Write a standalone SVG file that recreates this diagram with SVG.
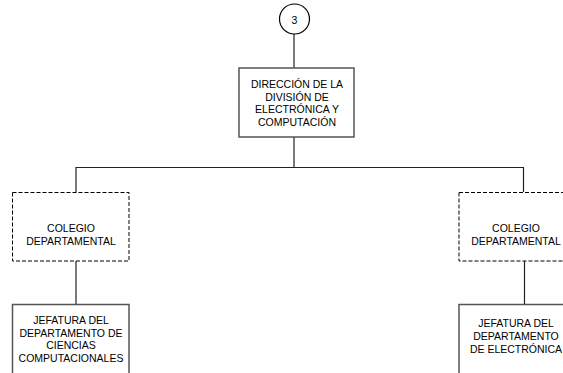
<svg xmlns="http://www.w3.org/2000/svg" width="563" height="373" viewBox="0 0 563 373">
<style>
text{font-family:"Liberation Sans",Arial,sans-serif;font-size:10.5px;fill:#000;text-anchor:middle}
.solid{fill:#fff;stroke:#555;stroke-width:1.5}
.dash{fill:#fff;stroke:#000;stroke-width:1;stroke-dasharray:4,2}
.conn{fill:none;stroke:#222;stroke-width:1.2}
</style>
<rect width="563" height="373" fill="#fff"/>
<g id="connectors">
<line class="conn" x1="294" y1="34" x2="294" y2="68"/>
<line class="conn" x1="294" y1="137" x2="294" y2="167.5"/>
<polyline class="conn" points="76,192 76,167.5 523.5,167.5 523.5,192"/>
<line class="conn" x1="76" y1="261" x2="76" y2="304"/>
<line class="conn" x1="524.5" y1="261" x2="524.5" y2="304"/>
</g>
<g id="ref3">
<circle cx="294.5" cy="19" r="15" fill="#fff" stroke="#000" stroke-width="1.2"/>
<text x="294.5" y="23.5" font-size="12.5">3</text>
</g>
<g id="direccion">
<rect class="solid" x="239" y="68" width="115" height="69"/>
<text x="297" y="88">DIRECCIÓN DE LA</text>
<text x="297" y="100.5">DIVISIÓN DE</text>
<text x="297" y="113">ELECTRÓNICA Y</text>
<text x="297" y="125.5">COMPUTACIÓN</text>
</g>
<g id="colegio-left">
<rect class="dash" x="12.5" y="192.5" width="116.5" height="68.5"/>
<text x="71" y="232">COLEGIO</text>
<text x="71" y="244.5">DEPARTAMENTAL</text>
</g>
<g id="colegio-right">
<rect class="dash" x="459" y="192.5" width="116.5" height="68.5"/>
<text x="516" y="232">COLEGIO</text>
<text x="516" y="244.5">DEPARTAMENTAL</text>
</g>
<g id="jefatura-cc">
<rect class="solid" x="12.5" y="304.5" width="116.5" height="80"/>
<text x="71" y="324">JEFATURA DEL</text>
<text x="71" y="336.5">DEPARTAMENTO DE</text>
<text x="71" y="349">CIENCIAS</text>
<text x="71" y="361.5">COMPUTACIONALES</text>
</g>
<g id="jefatura-el">
<rect class="solid" x="459" y="304.5" width="116.5" height="80"/>
<text x="516" y="327">JEFATURA DEL</text>
<text x="516" y="340">DEPARTAMENTO</text>
<text x="516" y="353">DE ELECTRÓNICA</text>
</g>
</svg>
